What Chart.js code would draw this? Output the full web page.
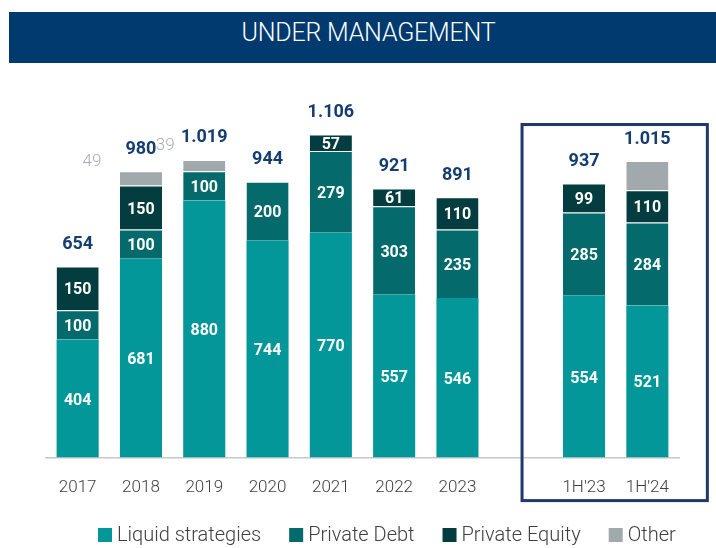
<!DOCTYPE html>
<html>
<head>
<meta charset="utf-8">
<script src="https://cdn.jsdelivr.net/npm/chart.js@4"></script>
<style>
  html, body { margin: 0; padding: 0; background: #ffffff; }
  #wrap { position: relative; width: 716px; height: 548px; }
  #titlebar {
    position: absolute; left: 9px; top: 12px; width: 707px; height: 51px;
    background: #003A6E; color: #ffffff;
    font-family: Roboto, "Open Sans", sans-serif; font-weight: 300; font-size: 25px;
    text-align: center; line-height: 42px; letter-spacing: -0.2px;
  }
  #titlebar span { position: relative; left: 6px; }
  canvas { position: absolute; left: 0; top: 0; }
</style>
</head>
<body>
<div id="wrap">
  <canvas id="c" width="716" height="548"></canvas>
  <div id="titlebar"><span>UNDER MANAGEMENT</span></div>
</div>
<script>
const categories = ['2017', '2018', '2019', '2020', '2021', '2022', '2023', '', "1H'23", "1H'24"];
const liquidStrategies = [404, 681, 880, 744, 770, 557, 546, null, 554, 521];
const privateDebt      = [100, 100, 100, 200, 279, 303, 235, null, 285, 284];
const privateEquity    = [150, 150, null, null, 57, 61, 110, null, 99, 110];
const other            = [null, 49, 39, null, null, null, null, null, null, 100];
const totals           = [654, 980, 1019, 944, 1106, 921, 891, null, 937, 1015];
const otherLabels      = [null, '49', '39', null, null, null, null, null, null, null];
const seriesNames      = ['Liquid strategies', 'Private Debt', 'Private Equity', 'Other'];
const seriesColors     = ['#04979A', '#046A6B', '#033D3F', '#A2A9AD'];

const FONT = 'Roboto, "Open Sans", sans-serif';

function fmt(v) {
  return String(v).replace(/\B(?=(\d{3})+(?!\d))/g, '.');
}

const labelsPlugin = {
  id: 'labelsPlugin',
  afterDatasetsDraw(chart) {
    const ctx = chart.ctx;
    ctx.save();
    ctx.textAlign = 'center';
    ctx.textBaseline = 'middle';
    for (let d = 0; d < 3; d++) {
      const meta = chart.getDatasetMeta(d);
      const data = chart.data.datasets[d].data;
      meta.data.forEach((el, i) => {
        const v = data[i];
        if (v == null || v === 0) return;
        ctx.fillStyle = '#ffffff';
        ctx.font = 'bold 16px ' + FONT;
        ctx.fillText(fmt(v), el.x, (el.y + el.base) / 2 + 2);
      });
    }
    categories.forEach((c, i) => {
      if (totals[i] == null) return;
      let top = Infinity, x = 0;
      for (let d = 0; d < 4; d++) {
        const v = chart.data.datasets[d].data[i];
        if (v == null) continue;
        const el = chart.getDatasetMeta(d).data[i];
        if (el.y < top) { top = el.y; x = el.x; }
      }
      ctx.fillStyle = '#153D72';
      ctx.font = 'bold 18px ' + FONT;
      ctx.fillText(fmt(totals[i]), x, top - 22);
    });
    const offsets = { 1: [-49, -10], 2: [-39, -14] };
    const meta = chart.getDatasetMeta(3);
    otherLabels.forEach((t, i) => {
      if (!t) return;
      const el = meta.data[i];
      const off = offsets[i] || [0, -12];
      ctx.fillStyle = '#A7AEB3';
      ctx.font = '300 17px ' + FONT;
      ctx.fillText(t, el.x + off[0], el.y + off[1]);
    });
    ctx.restore();
  }
};

const boxPlugin = {
  id: 'boxPlugin',
  afterDraw(chart) {
    const xs = chart.scales.x, ys = chart.scales.y;
    const left = xs.getPixelForValue(8) - 62;
    const right = xs.getPixelForValue(9) + 60;
    const top = ys.getPixelForValue(1140);
    const bottom = chart.chartArea.bottom + 43;
    const ctx = chart.ctx;
    ctx.save();
    ctx.strokeStyle = '#1F3A68';
    ctx.lineWidth = 3;
    ctx.strokeRect(left, top, right - left, bottom - top);
    ctx.restore();
  }
};

const legendPlugin = {
  id: 'customLegend',
  afterDraw(chart) {
    const ctx = chart.ctx;
    ctx.save();
    ctx.font = '300 20px ' + FONT;
    ctx.textBaseline = 'middle';
    ctx.textAlign = 'left';
    const cy = 535;
    let x = 98;
    chart.data.datasets.forEach((ds) => {
      ctx.fillStyle = ds.backgroundColor;
      ctx.fillRect(x, cy - 7, 14, 14);
      x += 14 + 5;
      ctx.fillStyle = '#404040';
      ctx.fillText(ds.label, x, cy + 1);
      x += ctx.measureText(ds.label).width + 28;
    });
    ctx.restore();
  }
};

const segBorder = { top: 1, bottom: 0, left: 0, right: 0 };

new Chart(document.getElementById('c'), {
  type: 'bar',
  data: {
    labels: categories,
    datasets: [
      { label: seriesNames[0], data: liquidStrategies, backgroundColor: seriesColors[0], borderWidth: 0 },
      { label: seriesNames[1], data: privateDebt, backgroundColor: seriesColors[1], borderColor: 'rgba(255,255,255,0.12)', borderWidth: segBorder, borderSkipped: false },
      { label: seriesNames[2], data: privateEquity, backgroundColor: seriesColors[2], borderColor: 'rgba(255,255,255,0.12)', borderWidth: segBorder, borderSkipped: false },
      { label: seriesNames[3], data: other, backgroundColor: seriesColors[3], borderColor: 'rgba(255,255,255,0.12)', borderWidth: segBorder, borderSkipped: false }
    ]
  },
  options: {
    responsive: false,
    animation: false,
    devicePixelRatio: 1,
    categoryPercentage: 0.665,
    barPercentage: 1,
    layout: { padding: { left: 46, right: 37, top: 107, bottom: 30 } },
    scales: {
      x: {
        stacked: true,
        grid: { display: false, drawTicks: false },
        border: { display: true, color: '#C8C8C8', width: 1.5 },
        ticks: { color: '#404040', font: { family: FONT, size: 17, weight: '300' }, padding: 20 }
      },
      y: { stacked: true, display: false, min: 0, max: 1200 }
    },
    plugins: {
      legend: { display: false },
      tooltip: { enabled: false }
    }
  },
  plugins: [labelsPlugin, boxPlugin, legendPlugin]
});
</script>
</body>
</html>
